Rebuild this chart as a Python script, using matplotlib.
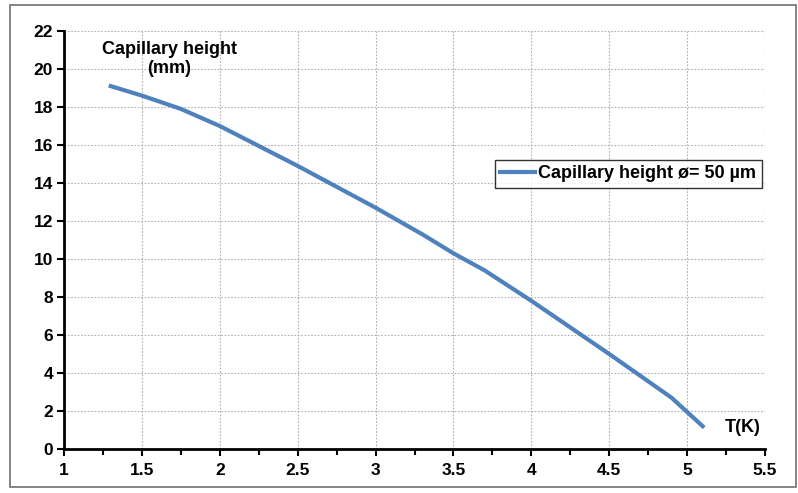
import matplotlib
matplotlib.use("Agg")
import matplotlib.pyplot as plt
from matplotlib.patches import Rectangle
from matplotlib.ticker import MultipleLocator

T_K = [1.3, 1.5, 1.75, 2.0, 2.5, 3.0, 3.3, 3.5, 3.7, 4.0, 4.5, 4.9, 5.1]
height_mm = [19.1, 18.6, 17.9, 17.0, 14.9, 12.7, 11.3, 10.3, 9.4, 7.8, 5.0, 2.7, 1.2]
x_ticks = [1, 1.5, 2, 2.5, 3, 3.5, 4, 4.5, 5, 5.5]
y_ticks = list(range(0, 23, 2))

plt.rcParams['font.family'] = ['Liberation Sans', 'DejaVu Sans']
plt.rcParams['font.weight'] = 'bold'

fig = plt.figure(figsize=(7.98, 4.93), dpi=100)
fig.patches.append(Rectangle((10/798, 6/493), 786/798, 482/493, transform=fig.transFigure,
                             fill=False, edgecolor='#707070', linewidth=1.2))
ax = fig.add_axes([64/798, 44/493, 701/798, 418/493])

ax.plot(T_K, height_mm, color='#4F81BD', linewidth=3, label='Capillary height ø= 50 µm')
ax.set_xlim(1, 5.5)
ax.set_ylim(0, 22)
ax.set_xticks(x_ticks)
ax.set_xticklabels([('%g' % v) for v in x_ticks])
ax.set_yticks(y_ticks)
ax.xaxis.set_minor_locator(MultipleLocator(0.25))
ax.grid(True, which='major', color='#b0b0b0', linestyle=(0, (1.5, 1.5)), linewidth=0.8)
for s in ['top', 'right']:
    ax.spines[s].set_visible(False)
for s in ['left', 'bottom']:
    ax.spines[s].set_linewidth(2)
ax.tick_params(axis='both', which='major', length=5, width=1.5, direction='out')
ax.tick_params(axis='x', which='minor', length=4, width=1.5, direction='out')
ax.tick_params(axis='x', pad=5)
ax.tick_params(axis='y', pad=3)
for lab in ax.get_yticklabels():
    lab.set_fontweight('bold')
    lab.set_fontsize(12.5)
for lab in ax.get_xticklabels():
    lab.set_fontweight('bold')
    lab.set_fontsize(12.5)
    lab.set_family(['Liberation Sans Narrow', 'Liberation Sans'])

fig.text(169/798, 1 - 59/493, 'Capillary height\n(mm)', fontsize=13, fontweight='bold',
         ha='center', va='center', linespacing=1.15)
fig.text(743/798, 1 - 427/493, 'T(K)', fontsize=13, fontweight='bold', ha='center', va='center')

leg = ax.legend(loc='upper left', bbox_to_anchor=((495-64)/701, (449-160)/418), frameon=True,
                fancybox=False, edgecolor='black', fontsize=13, handlelength=1.9,
                borderpad=0.3, handletextpad=0.2, borderaxespad=0)
leg.get_frame().set_linewidth(1.0)
for t in leg.get_texts():
    t.set_fontweight('bold')

fig.savefig('out.png', dpi=100)
